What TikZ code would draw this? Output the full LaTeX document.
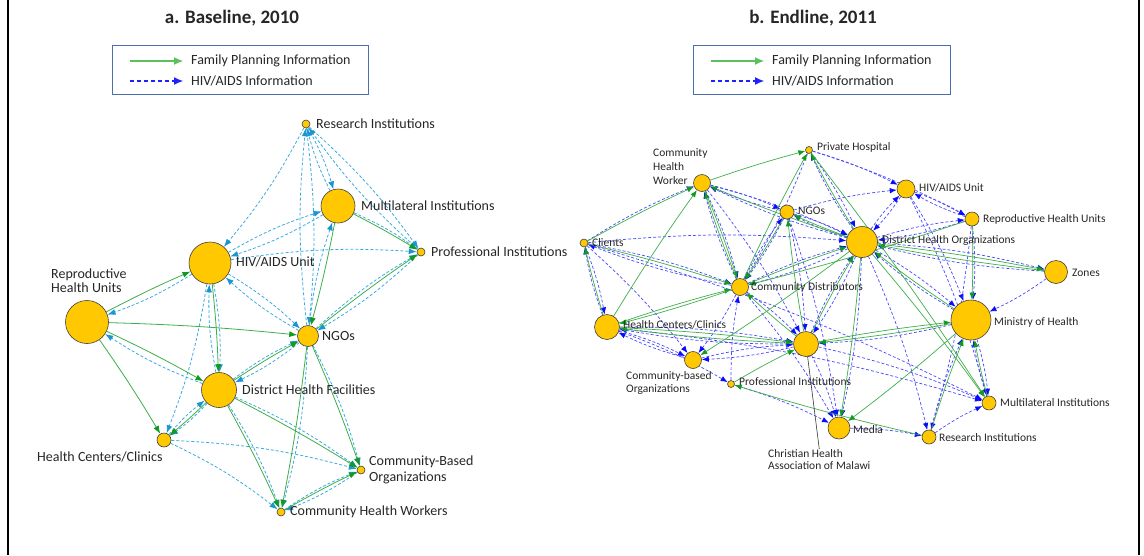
\documentclass[tikz,border=0pt]{standalone}
\usepackage{fontspec}
\setmainfont{Carlito}
\usetikzlibrary{arrows.meta}
\definecolor{nodeY}{HTML}{FFC800}
\definecolor{fpline}{HTML}{3DAE49}
\definecolor{fptip}{HTML}{129A1E}
\definecolor{hivL}{HTML}{3AAAE0}
\definecolor{hivLtip}{HTML}{1B95D0}
\definecolor{hivR}{HTML}{4848FF}
\definecolor{hivRtip}{HTML}{0A0AFF}
\definecolor{legbox}{HTML}{4A6FB0}
\definecolor{legfp}{HTML}{5CC05C}
\definecolor{leghiv}{HTML}{1F1FFF}
\definecolor{txt}{HTML}{262626}
\pgfdeclarelayer{bg}
\pgfsetlayers{bg,main}
\tikzset{
 nd/.style={circle, draw=black!75, line width=0.6pt, fill=nodeY, inner sep=0pt, minimum size=#1},
 lblL/.style={font=\fontsize{14}{13.5}\selectfont, inner sep=0pt, anchor=west, text=txt, align=left},
 lblR/.style={font=\fontsize{11.5}{13}\selectfont, inner sep=0pt, anchor=west, text=txt, align=left},
 ttl/.style={font=\fontsize{19}{19}\selectfont\bfseries, inner sep=0pt, text=txt},
 fpL/.style={draw=fpline, line width=0.8pt, -{Latex[length=8pt,width=6pt,color=fptip]}},
 hvL/.style={draw=hivL, line width=0.8pt, dash pattern=on 3pt off 2pt, -{Latex[length=8pt,width=6pt,color=hivLtip]}},
 fpR/.style={draw=fpline, line width=0.7pt, -{Latex[length=7pt,width=5.5pt,color=fptip]}},
 hvR/.style={draw=hivR, line width=0.7pt, dash pattern=on 3pt off 2pt, -{Latex[length=7pt,width=5.5pt,color=hivRtip]}},
 legframe/.style={draw=legbox, line width=1pt, inner sep=0pt, anchor=north west, minimum width=256.5pt, minimum height=49pt},
 legfpline/.style={draw=legfp, line width=1.1pt, -{Latex[length=9pt,width=8pt,color=legfp]}},
 leghivline/.style={draw=leghiv, line width=1.1pt, dash pattern=on 4pt off 3pt, -{Latex[length=9pt,width=8pt,color=leghiv]}},
}
\begin{document}
\begin{tikzpicture}[x=1pt,y=-1pt]
\useasboundingbox (0,0) rectangle (1144,555);
\draw[line width=2pt] (7.5,0) -- (7.5,555);
\draw[line width=2pt] (1139,0) -- (1139,555);

% ---------- titles and legends ----------
\node[ttl] (titA) at (232,18) {a. Baseline, 2010};
\node[ttl] (titB) at (813,18) {b. Endline, 2011};

\node[legframe] (legA) at (111.5,45) {};
\coordinate (lgA1) at (130,61); \coordinate (lgA2) at (183,61);
\coordinate (lgA3) at (130,81); \coordinate (lgA4) at (183,81);
\draw[legfpline] (lgA1) -- (lgA2);
\draw[leghivline] (lgA3) -- (lgA4);
\node[lblL] (legAt1) at (191,61) {Family Planning Information};
\node[lblL] (legAt2) at (191,81) {HIV/AIDS Information};

\node[legframe] (legB) at (693,45) {};
\coordinate (lgB1) at (711,61); \coordinate (lgB2) at (764,61);
\coordinate (lgB3) at (711,81); \coordinate (lgB4) at (764,81);
\draw[legfpline] (lgB1) -- (lgB2);
\draw[leghivline] (lgB3) -- (lgB4);
\node[lblL] (legBt1) at (772,61) {Family Planning Information};
\node[lblL] (legBt2) at (772,81) {HIV/AIDS Information};

% ---------- panel a nodes ----------
\node[nd=8pt]  (aRI)  at (306,124) {};
\node[nd=34pt] (aMI)  at (338,206) {};
\node[nd=8pt]  (aPI)  at (421,252) {};
\node[nd=42pt] (aHIV) at (210,263) {};
\node[nd=43pt] (aRHU) at (87,322) {};
\node[nd=21pt] (aNGO) at (308,336) {};
\node[nd=35pt] (aDHF) at (219,390) {};
\node[nd=14pt] (aHC)  at (164,440) {};
\node[nd=8pt]  (aCBO) at (361,470) {};
\node[nd=8pt]  (aCHW) at (281,512) {};

\node[lblL] (laRI)  at (316,124) {Research Institutions};
\node[lblL] (laMI)  at (361,206) {Multilateral Institutions};
\node[lblL] (laPI)  at (431,252) {Professional Institutions};
\node[lblL] (laHIV) at (236,262) {HIV/AIDS Unit};
\node[lblL] (laRHU) at (51,280.5) {Reproductive\\Health Units};
\node[lblL] (laNGO) at (322,336) {NGOs};
\node[lblL] (laDHF) at (242,390) {District Health Facilities};
\node[lblL] (laHC)  at (37,457) {Health Centers/Clinics};
\node[lblL, font=\fontsize{14}{16}\selectfont] (laCBO) at (369,470) {Community-Based\\Organizations};
\node[lblL] (laCHW) at (290,512) {Community Health Workers};

% ---------- panel b nodes ----------
\node[nd=7pt]  (bPH)   at (809,150) {};
\node[nd=17pt] (bCHW)  at (702,183) {};
\node[nd=14pt] (bNGO)  at (787,212) {};
\node[nd=8pt]  (bCL)   at (584,243) {};
\node[nd=31pt] (bDHO)  at (862,242) {};
\node[nd=18pt] (bHIV)  at (906,189) {};
\node[nd=14pt] (bRHU)  at (972,219) {};
\node[nd=23pt] (bZON)  at (1056,272) {};
\node[nd=17pt] (bCD)   at (740,287) {};
\node[nd=25pt] (bHC)   at (607,327) {};
\node[nd=17pt] (bCBO)  at (693,360) {};
\node[nd=7pt]  (bPI)   at (731,384) {};
\node[nd=25pt] (bCHAM) at (806,344) {};
\node[nd=22pt] (bMED)  at (839,428) {};
\node[nd=40pt] (bMOH)  at (971,320) {};
\node[nd=14pt] (bMULT) at (989,403) {};
\node[nd=14pt] (bRES)  at (929,437) {};

\node[lblR] (lbPH)   at (817,147) {Private Hospital};
\node[lblR, font=\fontsize{11.5}{14}\selectfont] (lbCHW) at (653,167) {Community\\Health\\Worker};
\node[lblR] (lbNGO)  at (798,211) {NGOs};
\node[lblR] (lbCL)   at (592,243) {Clients};
\node[lblR] (lbDHO)  at (882,240) {District Health Organizations};
\node[lblR] (lbHIV)  at (919,188) {HIV/AIDS Unit};
\node[lblR] (lbRHU)  at (983,219) {Reproductive Health Units};
\node[lblR] (lbZON)  at (1072,273) {Zones};
\node[lblR] (lbCD)   at (751,287) {Community Distributors};
\node[lblR] (lbHC)   at (623,325) {Health Centers/Clinics};
\node[lblR] (lbCBO)  at (626,382.5) {Community-based\\Organizations};
\node[lblR] (lbPI)   at (739,382) {Professional Institutions};
\node[lblR] (lbMED)  at (853,430) {Media};
\node[lblR] (lbMOH)  at (994,322) {Ministry of Health};
\node[lblR] (lbMULT) at (1000,403) {Multilateral Institutions};
\node[lblR] (lbRES)  at (939,438) {Research Institutions};
\node[lblR, font=\fontsize{11.5}{12}\selectfont, anchor=north west] (lbCHAM) at (768,449) {Christian Health\\Association of Malawi};
\draw[black!80, line width=0.6pt] (bCHAM) -- (lbCHAM.north);

% ---------- edges ----------
\begin{pgfonlayer}{bg}
\foreach \a/\b in {aHIV/aRHU, aDHF/aRHU, aDHF/aHIV, aHIV/aDHF, aHIV/aHC, aHIV/aNGO, aNGO/aHIV,
  aRI/aHIV, aRI/aMI, aMI/aRI, aRI/aNGO, aNGO/aRI, aRI/aPI, aPI/aRI, aMI/aHIV, aHIV/aMI, aMI/aPI,
  aHIV/aPI, aNGO/aMI, aPI/aNGO, aNGO/aPI, aNGO/aDHF, aDHF/aNGO, aHC/aDHF, aDHF/aHC, aDHF/aCHW,
  aDHF/aCBO, aNGO/aCHW, aNGO/aCBO, aHC/aCBO, aHC/aCHW, aCHW/aCBO, aCBO/aCHW}
  \draw[hvL] (\a) to[bend left=6] (\b);
\foreach \a/\b in {aRHU/aHIV, aRHU/aNGO, aRHU/aDHF, aRHU/aHC, aHIV/aDHF, aMI/aPI, aMI/aNGO,
  aNGO/aPI, aDHF/aNGO, aDHF/aHC, aDHF/aCHW, aDHF/aCBO, aNGO/aCHW, aNGO/aCBO, aCHW/aCBO}
  \draw[fpL] (\a) to[bend left=2] (\b);

\foreach \a/\b in {bCL/bCHW, bNGO/bCHW, bCHW/bNGO, bDHO/bCHW, bCHW/bDHO, bCL/bDHO,
  bCL/bHC, bHC/bCL, bCL/bCBO, bCL/bCD, bCD/bCL, bCHW/bCD, bCD/bCHW, bNGO/bCD, bCD/bNGO, bDHO/bCD,
  bCD/bDHO, bNGO/bDHO, bDHO/bNGO, bPH/bDHO, bDHO/bPH, bPH/bHIV, bPH/bRHU, bDHO/bHIV, bHIV/bDHO,
  bDHO/bRHU, bRHU/bDHO, bHIV/bRHU, bRHU/bHIV, bNGO/bHIV, bDHO/bZON, bZON/bDHO, bZON/bMOH,
  bDHO/bMOH, bMOH/bDHO, bHIV/bMOH, bRHU/bMOH, bCHAM/bDHO, bDHO/bCHAM, bCHAM/bHC, bHC/bCHAM,
  bHC/bCBO, bCBO/bHC, bCD/bCBO, bCBO/bCHAM, bCHAM/bCBO, bCD/bCHAM, bCHAM/bMED, bDHO/bMED,
  bMOH/bCHAM, bCHAM/bMULT, bMULT/bMOH, bMOH/bMULT, bRES/bMOH, bRES/bMULT,
  bMED/bRES, bHIV/bMULT, bNGO/bMED, bDHO/bRES, bHC/bMULT, bCL/bMULT, bPI/bMED, bPI/bCD, bHC/bPI,
  bRHU/bRES, bPH/bCD, bCHW/bCHAM, bNGO/bCHAM, bCD/bMED}
  \draw[hvR] (\a) to[bend left=5] (\b);
\foreach \a/\b in {bCL/bCHW, bHC/bCHW, bHC/bCL, bCHW/bCD, bNGO/bCD, bCD/bPH, bDHO/bPH, bDHO/bCHW,
  bDHO/bNGO, bCD/bDHO, bCL/bCD, bHC/bCD, bCD/bHC, bCHAM/bHC, bHC/bCHAM, bPI/bCHAM, bRES/bPI,
  bMOH/bMED, bRES/bMOH, bMULT/bMOH, bDHO/bMULT, bRHU/bMOH, bDHO/bZON, bZON/bDHO, bCHAM/bMOH,
  bMOH/bCHAM, bCHAM/bDHO, bDHO/bMED, bRHU/bCD, bPH/bMULT, bCHAM/bCD, bDHO/bCBO,
  bCHAM/bNGO, bMOH/bDHO, bCHW/bPH, bCD/bCHW}
  \draw[fpR] (\a) to[bend left=2] (\b);
\end{pgfonlayer}
\end{tikzpicture}
\end{document}
